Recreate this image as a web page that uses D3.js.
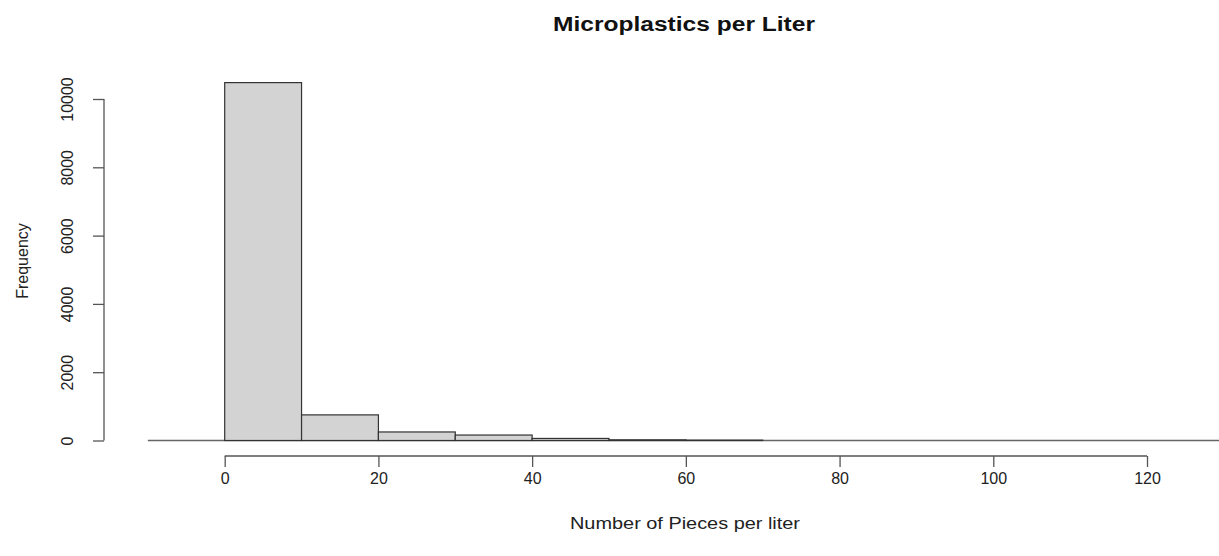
<!DOCTYPE html>
<html><head><meta charset="utf-8">
<script src="https://cdn.jsdelivr.net/npm/d3@7"></script>
<style>body{margin:0;background:#fff}svg{display:block}text{font-family:"Liberation Sans",Arial,sans-serif}</style>
</head><body>
<script>
const binStarts = [0, 10, 20, 30, 40, 50, 60];
const binWidth = 10;
const counts = [10480, 750, 250, 160, 60, 20, 10];
const xTicks = [0, 20, 40, 60, 80, 100, 120];
const yTicks = [0, 2000, 4000, 6000, 8000, 10000];
const title = "Microplastics per Liter";
const xLabel = "Number of Pieces per liter";
const yLabel = "Frequency";

const W = 1219, H = 556;
const svg = d3.select("body").append("svg").attr("width", W).attr("height", H);
const x = d3.scaleLinear().domain([0, 120]).range([224.7, 1147]);
const y = d3.scaleLinear().domain([0, 10000]).range([440.5, 99]);

// baseline
svg.append("line").attr("x1", x(-10)).attr("x2", W).attr("y1", y(0)).attr("y2", y(0))
  .attr("stroke", "#666").attr("stroke-width", 1.3);

// bars
svg.append("g").selectAll("rect").data(binStarts).join("rect")
  .attr("x", d => x(d)).attr("width", d => x(d + binWidth) - x(d))
  .attr("y", (d, i) => y(counts[i])).attr("height", (d, i) => y(0) - y(counts[i]))
  .attr("fill", "#d3d3d3").attr("stroke", "#333").attr("stroke-width", 1.2);

// x axis
const xa = svg.append("g").attr("transform", "translate(0,456)")
  .call(d3.axisBottom(x).tickValues(xTicks).tickSize(11).tickPadding(9).tickFormat(d3.format("d")));
xa.select(".domain").remove();
xa.append("line").attr("x1", x(0)).attr("x2", x(120)).attr("y1", 0).attr("y2", 0).attr("stroke", "#555").attr("stroke-width", 1.3);
xa.selectAll(".tick line").attr("stroke", "#555").attr("stroke-width", 1.3);
xa.selectAll(".tick text").attr("font-size", 16).attr("fill", "#222").attr("y", 17);

// y axis
const ya = svg.append("g").attr("transform", "translate(104,0)")
  .call(d3.axisLeft(y).tickValues(yTicks).tickSize(11).tickFormat(d3.format("d")));
ya.select(".domain").remove();
ya.append("line").attr("x1", 0).attr("x2", 0).attr("y1", y(0)).attr("y2", y(10000)).attr("stroke", "#555").attr("stroke-width", 1.3);
ya.selectAll(".tick line").attr("stroke", "#555").attr("stroke-width", 1.3);
ya.selectAll(".tick text").attr("font-size", 16).attr("fill", "#222")
  .attr("transform", "rotate(-90)").attr("x", 0).attr("y", -37).attr("dy", "0.35em").attr("text-anchor", "middle");

// labels
svg.append("text").attr("x", 684).attr("y", 31).attr("text-anchor", "middle")
  .attr("font-size", 20).attr("font-weight", "bold").attr("fill", "#111")
  .attr("textLength", 262).attr("lengthAdjust", "spacingAndGlyphs").text(title);
svg.append("text").attr("x", 685).attr("y", 529).attr("text-anchor", "middle")
  .attr("font-size", 16).attr("fill", "#222")
  .attr("textLength", 230).attr("lengthAdjust", "spacingAndGlyphs").text(xLabel);
svg.append("text").attr("transform", "translate(28,261) rotate(-90)").attr("text-anchor", "middle")
  .attr("font-size", 16).attr("fill", "#222").text(yLabel);
</script>
</body></html>
